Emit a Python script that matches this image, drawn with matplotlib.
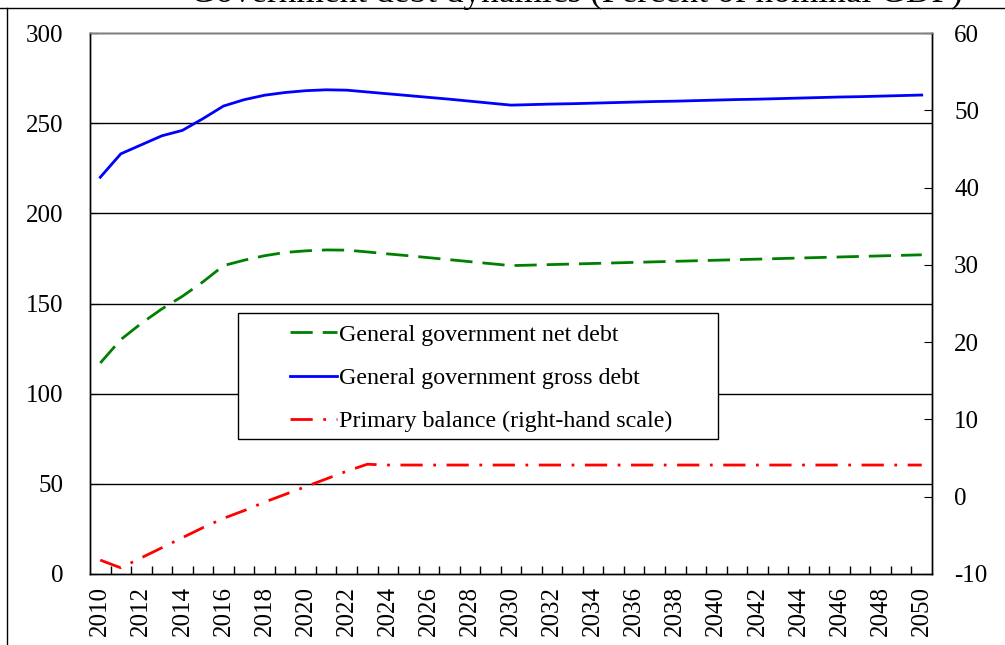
import numpy as np
import matplotlib
matplotlib.use("Agg")
import matplotlib.pyplot as plt
from matplotlib.lines import Line2D
from matplotlib.patches import Rectangle

plt.rcParams['font.family'] = ['Liberation Serif', 'DejaVu Serif']
plt.rcParams['axes.unicode_minus'] = False

# Dados (% do PIB nominal)
years = list(range(2010, 2051))
gross_debt = [220, 233, 238, 243, 246, 252.5, 259.5, 263, 265.5, 267, 268, 268.5, 268.3,
              267.3, 266.3, 265.3, 264.3, 263.3, 262.2, 261.1, 260,
              260.3, 260.6, 260.8, 261.1, 261.4, 261.7, 262, 262.2, 262.5, 262.8,
              263.1, 263.3, 263.6, 263.9, 264.2, 264.5, 264.7, 265, 265.3, 265.6]
net_debt = [117, 130, 139, 147, 154, 162, 171, 174, 176.5, 178.3, 179.2, 179.7, 179.6,
            178.6, 177.5, 176.5, 175.4, 174.3, 173.2, 172.1, 171,
            171.3, 171.6, 171.9, 172.2, 172.5, 172.8, 173.1, 173.4, 173.7, 174,
            174.3, 174.6, 174.9, 175.2, 175.5, 175.8, 176.1, 176.4, 176.7, 177]
primary_balance = [-8.2, -9.2, -7.9, -6.6, -5.3, -4.0, -2.8, -1.8, -0.7, 0.3, 1.3, 2.3, 3.3,
                   4.2] + [4.1] * 27

title = "Government debt dynamics (Percent of nominal GDP)"

x = np.arange(len(years))

fig = plt.figure(figsize=(10.05, 6.45), dpi=100)
ax = fig.add_axes([90 / 1005, 1 - 574 / 645, 842 / 1005, 541 / 645])
ax2 = ax.twinx()

# Grade horizontal
for v in [50, 100, 150, 200, 250]:
    ax.axhline(v, color='black', lw=1.0, zorder=1)

l1, = ax.plot(x, net_debt, color='#008000', lw=2.0, dashes=(8, 3.6), zorder=3,
              label='General government net debt')
l2, = ax.plot(x, gross_debt, color='#0000ff', lw=2.0, zorder=3,
              label='General government gross debt')
l3, = ax2.plot(x, primary_balance, color='#ff0000', lw=2.0, dashes=(8, 3.8, 1, 3.8), zorder=3,
               label='Primary balance (right-hand scale)')

ax.set_xlim(-0.5, len(years) - 0.5)
ax.set_ylim(0, 300)
ax2.set_ylim(-10, 60)
ax.set_yticks(np.arange(0, 301, 50))
ax2.set_yticks(np.arange(-10, 61, 10))

ax.set_xticks(x[::2])
ax.set_xticklabels([str(y) for y in years[::2]], rotation=90)
ax.set_xticks(x[:-1] + 0.5, minor=True)
ax.tick_params(axis='x', which='major', length=0, labelsize=18, pad=9)
ax.tick_params(axis='x', which='minor', direction='in', length=6, width=1)
ax.tick_params(axis='y', direction='in', length=6, labelsize=18, pad=19)
ax2.tick_params(axis='y', direction='in', length=6, labelsize=18, pad=16)

for a in (ax, ax2):
    for s in a.spines.values():
        s.set_color('black')
        s.set_linewidth(1.0)
ax2.spines['top'].set_color('#808080')

# Caixa da legenda
ax2.add_patch(Rectangle((0.1758, 0.2495), 0.570, 0.2329, transform=ax2.transAxes,
                        facecolor='white', edgecolor='black', lw=1.0, zorder=4))
leg = ax2.legend(handles=[l1, l2, l3], loc='upper left',
                 bbox_to_anchor=(0.2375, 0.4626), frameon=False,
                 fontsize=17.3, handlelength=1.95, handletextpad=0.1,
                 borderpad=0, labelspacing=0.9, borderaxespad=0)
leg.set_zorder(5)

# Título cortado no topo e moldura
fig.text(0.574, 1 - 2 / 645, title, ha='center', va='baseline', fontsize=25.5)
fig.add_artist(Line2D([0, 1], [1 - 8 / 645, 1 - 8 / 645], color='black', lw=1,
                      transform=fig.transFigure))
fig.add_artist(Line2D([7 / 1005, 7 / 1005], [1 - 8 / 645, 0], color='black', lw=1,
                      transform=fig.transFigure))

fig.savefig('out.png', dpi=100)
